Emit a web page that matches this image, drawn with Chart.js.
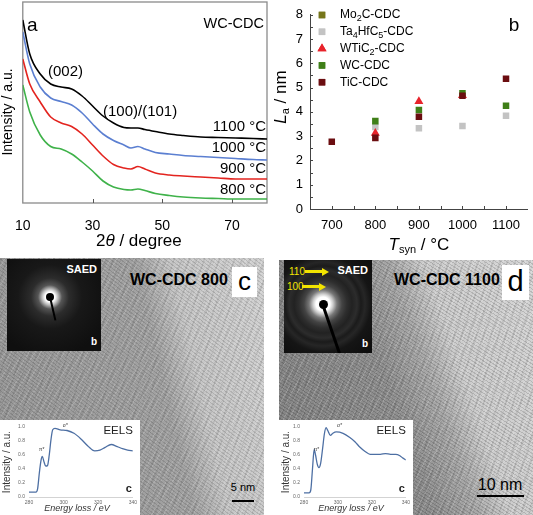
<!DOCTYPE html>
<html>
<head>
<title>WC-CDC: XRD, La and TEM</title>
<script src="https://cdn.jsdelivr.net/npm/chart.js"></script>
<style>
    body { margin: 0; background: #fff; font-family: "Liberation Sans", Arial, sans-serif; }
    #page { position: relative; width: 533px; height: 515px; overflow: hidden; }
    .abs { position: absolute; }
    canvas { display: block; }

    /* TEM micrographs (plain tone, no image available) */
    .tem { position: absolute; overflow: hidden; }
    #temC {
        left: 0; top: 258px; width: 264px; height: 257px;
        background:
            repeating-linear-gradient(37deg, rgba(0,0,0,0.12) 0 1px, transparent 1px 3px),
            repeating-linear-gradient(-58deg, rgba(255,255,255,0.14) 0 1px, transparent 1px 5px),
            repeating-linear-gradient(112deg, rgba(0,0,0,0.07) 0 2px, transparent 2px 7px),
            linear-gradient(77deg, #979797 0%, #a2a2a2 60%, #c6c6c6 71%, #d3d3d3 100%);
    }
    #temD {
        left: 279px; top: 260px; width: 254px; height: 255px;
        background:
            repeating-linear-gradient(33deg, rgba(0,0,0,0.14) 0 1px, transparent 1px 3px),
            repeating-linear-gradient(-62deg, rgba(255,255,255,0.16) 0 1px, transparent 1px 5px),
            repeating-linear-gradient(108deg, rgba(0,0,0,0.08) 0 2px, transparent 2px 7px),
            linear-gradient(71deg, #838383 0%, #8f8f8f 45%, #a8a8a8 58%, #cdcdcd 68%, #d5d5d5 100%);
    }
    .saed { position: absolute; overflow: hidden; }
    #saedC {
        left: 7px; top: 259px; width: 94px; height: 92px;
        background: radial-gradient(circle at 43px 38px, #fff 0, #fff 5px, #bbb 8px, #555 12px, #2c2c2c 19px, #181818 32px, #0f0f0f 60px);
    }
    #saedD {
        left: 284px; top: 260px; width: 88px; height: 93px;
        background: radial-gradient(circle at 39px 44px, #fff 0, #fff 7px, #ccc 10px, #777 14px, #444 19px, #2e2e2e 24px, #222 29px, #2c2c2c 34px, #1b1b1b 38px, #262626 42px, #151515 48px, #0c0c0c 70px);
    }
    .stopDot { position: absolute; background: #000; border-radius: 50%; }
    .stopArm { position: absolute; background: #000; transform-origin: top center; }
    .saedTxt { position: absolute; color: #fff; font-weight: bold; font-size: 11px; line-height: 12px; }
    .yel { position: absolute; color: #f2e400; font-size: 10px; line-height: 11px; }
    .yelBar { position: absolute; height: 3px; background: #f2e400; }
    .yelHead { position: absolute; width: 0; height: 0; border-left: 7px solid #f2e400; border-top: 4px solid transparent; border-bottom: 4px solid transparent; }
    .name { position: absolute; font-weight: bold; font-size: 16px; line-height: 18px; color: #000; white-space: nowrap; }
    .letterBox { position: absolute; background: #fff; text-align: center; color: #000; }
    .scaleTxt { position: absolute; color: #000; white-space: nowrap; text-align: center; }
    .scaleBar { position: absolute; background: #000; }
    .inset { position: absolute; background: #fff; }
</style>
</head>
<body>
<div id="page">
    <div class="abs" style="left:0;top:0;"><canvas id="xrdChart" width="268" height="255"></canvas></div>
    <div class="abs" style="left:268px;top:0;"><canvas id="laChart" width="265" height="255"></canvas></div>

    <!-- panel c -->
    <div id="temC" class="tem"></div>
    <div id="saedC" class="saed">
        <div class="stopArm" style="left:42px;top:38px;width:2px;height:24px;transform:rotate(-13deg);"></div>
        <div class="stopDot" style="left:39px;top:34px;width:8px;height:8px;"></div>
        <div class="saedTxt" style="right:4px;top:4px;">SAED</div>
        <div class="saedTxt" style="right:4px;bottom:3px;font-size:10px;">b</div>
    </div>
    <div class="name" style="left:130px;top:271px;">WC-CDC 800</div>
    <div class="letterBox" style="left:232px;top:267px;width:25px;height:30px;font-size:26px;line-height:28px;">c</div>
    <div class="scaleTxt" style="left:229px;top:481px;width:28px;font-size:11px;line-height:13px;">5 nm</div>
    <div class="scaleBar" style="left:232px;top:500px;width:22px;height:2px;"></div>
    <div class="inset" style="left:0;top:420px;width:140px;height:95px;"><canvas id="eelsC" width="140" height="95"></canvas></div>

    <!-- panel d -->
    <div id="temD" class="tem"></div>
    <div id="saedD" class="saed">
        <div class="stopArm" style="left:37px;top:44px;width:3px;height:52px;transform:rotate(-19deg);"></div>
        <div class="stopDot" style="left:35px;top:40px;width:9px;height:9px;"></div>
        <div class="yel" style="left:5px;top:6px;">110</div>
        <div class="yelBar" style="left:21px;top:10px;width:17px;"></div>
        <div class="yelHead" style="left:38px;top:7.5px;"></div>
        <div class="yel" style="left:3px;top:21px;">100</div>
        <div class="yelBar" style="left:18px;top:25px;width:17px;"></div>
        <div class="yelHead" style="left:35px;top:22.5px;"></div>
        <div class="saedTxt" style="right:4px;top:4px;">SAED</div>
        <div class="saedTxt" style="right:4px;bottom:3px;font-size:10px;">b</div>
    </div>
    <div class="name" style="left:394px;top:271px;">WC-CDC 1100</div>
    <div class="letterBox" style="left:502px;top:265px;width:27px;height:35px;font-size:29px;line-height:33px;">d</div>
    <div class="scaleTxt" style="left:474px;top:476px;width:52px;font-size:16px;line-height:18px;">10 nm</div>
    <div class="scaleBar" style="left:477px;top:495px;width:47px;height:2px;"></div>
    <div class="inset" style="left:279px;top:420px;width:134px;height:95px;"><canvas id="eelsD" width="134" height="95"></canvas></div>
</div>

<script>
    const FONT = '"Liberation Sans", Arial, sans-serif';

    // panel a: XRD patterns of WC-CDC (intensity in arbitrary units)
    const twoTheta = [10, 12, 15, 18, 21, 24, 27, 30, 33, 36, 39, 41, 43, 45, 48, 52, 56, 61, 66, 71, 76, 80];
    const xrd1100 = [183, 149, 129, 119, 116, 114, 107, 97, 87, 80, 75.5, 75, 75, 73.5, 71.5, 69, 67.5, 66, 65.5, 65, 64.5, 64];
    const xrd1000 = [171, 139, 116, 105, 101.5, 98, 90, 79, 69, 62.5, 58, 55, 56.5, 54, 50.5, 49, 47.5, 46.5, 45.5, 44.5, 43.5, 43];
    const xrd900 = [144, 119, 101, 86, 80, 76.5, 69, 58, 47, 38.5, 35, 34, 36.5, 34, 30, 28, 27, 26, 25, 24, 24, 24];
    const xrd800 = [118, 91, 68, 56.5, 54, 49, 41, 32, 22, 16, 13.5, 13, 14, 12.5, 9.5, 7.5, 6, 5, 4.5, 4, 4, 4];
    const xrdTicks = [10, 30, 50, 70];
    const xrdTempLabels = ['1100 °C', '1000 °C', '900 °C', '800 °C'];

    // panel b: crystallite size La vs synthesis temperature
    const synTemps = [700, 800, 900, 1000, 1100];
    const laMo2C = [null, null, null, null, null];
    const laTa4HfC5 = [null, 3.38, 3.33, 3.42, 3.84];
    const laWTiC2 = [null, 3.12, 4.43, 4.68, null];
    const laWC = [null, 3.62, 4.08, 4.77, 4.25];
    const laTiC = [2.77, 2.93, 3.80, 4.67, 5.37];
    const laLegend = ['Mo_2C-CDC', 'Ta_4HfC_5-CDC', 'WTiC_2-CDC', 'WC-CDC', 'TiC-CDC'];
    const synTicks = [700, 800, 900, 1000, 1100];

    // EELS insets (c: 800 °C, d: 1100 °C)
    const eelsEnergyC = [280, 284, 285, 286, 287, 287.7, 288.7, 289.7, 290.7, 291.7, 292.7, 293.7, 295, 298, 302, 306, 310, 314, 318, 321, 324, 327.5, 331, 334, 337, 340];
    const eelsIntensityC = [0.07, 0.07, 0.12, 0.35, 0.53, 0.58, 0.50, 0.44, 0.45, 0.60, 0.82, 0.96, 0.98, 0.96, 0.95, 0.91, 0.83, 0.73, 0.66, 0.67, 0.71, 0.75, 0.72, 0.69, 0.67, 0.66];
    const eelsEnergyD = [280, 283, 284, 285, 286, 286.8, 287.8, 288.8, 289.8, 291, 292, 293, 294, 295.5, 297, 299, 303, 307, 310, 313, 316, 319, 322, 325, 328, 331, 334, 336.5, 338, 340];
    const eelsIntensityD = [0.06, 0.06, 0.10, 0.40, 0.68, 0.60, 0.47, 0.42, 0.48, 0.70, 0.90, 0.99, 0.95, 0.88, 0.91, 0.93, 0.91, 0.85, 0.79, 0.71, 0.65, 0.61, 0.61, 0.61, 0.62, 0.61, 0.61, 0.59, 0.56, 0.53];

    function pts(xs, ys) {
        return xs.map((x, i) => ({ x: x, y: ys[i] })).filter(p => p.y !== null);
    }

    // draws a row of text pieces, each [text, font, dy]
    function drawRuns(ctx, x, y, runs, align) {
        let w = 0;
        runs.forEach(r => { ctx.font = r[1]; w += ctx.measureText(r[0]).width; });
        let cx = align === 'left' ? x : (align === 'right' ? x - w : x - w / 2);
        ctx.textAlign = 'left';
        ctx.textBaseline = 'middle';
        runs.forEach(r => {
            ctx.font = r[1];
            ctx.fillText(r[0], cx, y + (r[2] || 0));
            cx += ctx.measureText(r[0]).width;
        });
    }

    // "Ta_4HfC_5" -> runs with subscripts
    function subRuns(label, size) {
        const runs = [];
        let buf = '';
        for (let i = 0; i < label.length; i++) {
            if (label[i] === '_') {
                if (buf) runs.push([buf, size + 'px ' + FONT, 0]);
                buf = '';
                runs.push([label[++i], Math.round(size * 0.72) + 'px ' + FONT, size * 0.3]);
            } else {
                buf += label[i];
            }
        }
        if (buf) runs.push([buf, size + 'px ' + FONT, 0]);
        return runs;
    }

    function line(ctx, x1, y1, x2, y2) {
        ctx.beginPath();
        ctx.moveTo(x1, y1);
        ctx.lineTo(x2, y2);
        ctx.stroke();
    }

    // ---------- panel a ----------
    const xrdDecor = {
        id: 'xrdDecor',
        beforeDatasetsDraw(chart) {
            const { ctx, chartArea: a, scales: { x } } = chart;
            ctx.save();
            ctx.strokeStyle = '#8a8a8a';
            ctx.lineWidth = 1.3;
            ctx.strokeRect(a.left, a.top, a.right - a.left, a.bottom - a.top);
            ctx.strokeStyle = '#555';
            ctx.lineWidth = 1;
            xrdTicks.slice(1).forEach(v => {
                const px = Math.round(x.getPixelForValue(v)) + 0.5;
                line(ctx, px, a.bottom, px, a.bottom - 4);
            });
            ctx.restore();
        },
        afterDraw(chart) {
            const { ctx, chartArea: a } = chart;
            ctx.save();
            ctx.fillStyle = '#000';
            drawRuns(ctx, 27, 26, [['a', '19px ' + FONT]], 'left');
            drawRuns(ctx, a.right - 3, 24, [['WC-CDC', '14.5px ' + FONT]], 'right');
            drawRuns(ctx, 48, 72, [['(002)', '15px ' + FONT]], 'left');
            drawRuns(ctx, 103, 112, [['(100)/(101)', '15px ' + FONT]], 'left');
            const ys = [127, 148, 169, 190];
            xrdTempLabels.forEach((t, i) => drawRuns(ctx, a.right - 1, ys[i], [[t, '15px ' + FONT]], 'right'));
            drawRuns(ctx, (a.left + a.right) / 2 - 6, 241,
                [['2', '17px ' + FONT], ['θ', 'italic 17px ' + FONT], [' / degree', '17px ' + FONT]], 'center');
            ctx.translate(8, 112);
            ctx.rotate(-Math.PI / 2);
            drawRuns(ctx, 0, 0, [['Intensity / a.u.', '14px ' + FONT]], 'center');
            ctx.restore();
        }
    };

    function xrdSet(label, values, color) {
        return {
            label: label,
            data: pts(twoTheta, values),
            borderColor: color,
            borderWidth: 1.6,
            pointRadius: 0,
            cubicInterpolationMode: 'monotone',
            fill: false
        };
    }

    new Chart(document.getElementById('xrdChart'), {
        type: 'line',
        data: {
            datasets: [
                xrdSet('1100 °C', xrd1100, '#000000'),
                xrdSet('1000 °C', xrd1000, '#5b7fd1'),
                xrdSet('900 °C', xrd900, '#e3241f'),
                xrdSet('800 °C', xrd800, '#3fb24a')
            ]
        },
        options: {
            responsive: false,
            animation: false,
            layout: { padding: { top: 2, right: 1, left: 0, bottom: 0 } },
            plugins: { legend: { display: false }, tooltip: { enabled: false } },
            scales: {
                x: {
                    type: 'linear', min: 10, max: 80,
                    afterBuildTicks: s => { s.ticks = xrdTicks.map(v => ({ value: v })); },
                    afterFit: s => { s.height = 52; },
                    grid: { display: false, drawTicks: false },
                    border: { display: false },
                    ticks: { padding: 15, color: '#000', maxRotation: 0, font: { size: 14, family: FONT }, callback: v => String(v) }
                },
                y: {
                    min: 0, max: 201,
                    afterFit: s => { s.width = 22; },
                    grid: { display: false, drawTicks: false },
                    border: { display: false },
                    ticks: { display: false }
                }
            }
        },
        plugins: [xrdDecor]
    });

    // ---------- panel b ----------
    const laStyles = [
        { color: '#76761a', style: 'rect', radius: 4.6 },
        { color: '#c3c3c3', style: 'rect', radius: 4.6 },
        { color: '#e8232b', style: 'triangle', radius: 5.2 },
        { color: '#3f7f18', style: 'rect', radius: 4.6 },
        { color: '#6b0d10', style: 'rect', radius: 4.6 }
    ];
    const laValues = [laMo2C, laTa4HfC5, laWTiC2, laWC, laTiC];
    const laOrder = [4, 3, 2, 1, 0];

    const laDecor = {
        id: 'laDecor',
        afterDraw(chart) {
            const { ctx, chartArea: a, scales: { x, y } } = chart;
            ctx.save();
            ctx.strokeStyle = '#444';
            ctx.lineWidth = 1;
            for (let v = 0.5; v <= 8; v += 0.5) {
                const py = Math.round(y.getPixelForValue(v)) + 0.5;
                line(ctx, a.left, py, a.left + 3, py);
            }
            for (let v = 700; v <= 1100; v += 50) {
                const px = Math.round(x.getPixelForValue(v)) + 0.5;
                line(ctx, px, a.bottom, px, a.bottom - 3);
            }
            // legend
            laLegend.forEach((lab, i) => {
                const yy = 15 + i * 16.8;
                const st = laStyles[i];
                ctx.fillStyle = st.color;
                ctx.strokeStyle = st.color;
                Chart.helpers.drawPoint(ctx, { pointStyle: st.style, radius: st.radius, rotation: 0, borderWidth: 0 }, 54, yy);
                ctx.fill();
                ctx.fillStyle = '#000';
                drawRuns(ctx, 72, yy, subRuns(lab, 12), 'left');
            });
            ctx.fillStyle = '#000';
            drawRuns(ctx, 246, 26, [['b', '19px ' + FONT]], 'center');
            drawRuns(ctx, x.getPixelForValue(900), 245,
                [['T', 'italic 17px ' + FONT], ['syn', '11px ' + FONT, 5], [' / °C', '17px ' + FONT]], 'center');
            ctx.translate(13, 97);
            ctx.rotate(-Math.PI / 2);
            drawRuns(ctx, 0, 0, [['L', 'italic 17px ' + FONT], ['a', '11px ' + FONT, 5], [' / nm', '17px ' + FONT]], 'center');
            ctx.restore();
        }
    };

    new Chart(document.getElementById('laChart'), {
        type: 'scatter',
        data: {
            datasets: laValues.map((vals, i) => ({
                label: laLegend[i].replace(/_/g, ''),
                data: pts(synTemps, vals),
                order: laOrder[i],
                pointStyle: laStyles[i].style,
                pointRadius: laStyles[i].radius,
                backgroundColor: laStyles[i].color,
                borderColor: laStyles[i].color,
                borderWidth: 0
            }))
        },
        options: {
            responsive: false,
            animation: false,
            layout: { padding: { top: 5, right: 0, left: 0, bottom: 0 } },
            plugins: { legend: { display: false }, tooltip: { enabled: false } },
            scales: {
                x: {
                    type: 'linear', min: 650, max: 1150,
                    afterBuildTicks: s => { s.ticks = synTicks.map(v => ({ value: v })); },
                    afterFit: s => { s.height = 46; },
                    grid: { display: false, drawTicks: false },
                    border: { display: true, color: '#444', width: 1 },
                    ticks: { padding: 9, color: '#000', maxRotation: 0, font: { size: 13, family: FONT }, callback: v => String(v) }
                },
                y: {
                    min: 0, max: 8,
                    afterBuildTicks: s => { s.ticks = [0, 1, 2, 3, 4, 5, 6, 7, 8].map(v => ({ value: v })); },
                    afterFit: s => { s.width = 42; },
                    grid: { display: false, drawTicks: false },
                    border: { display: true, color: '#444', width: 1 },
                    ticks: { padding: 7, color: '#000', font: { size: 13, family: FONT }, callback: v => String(v) }
                }
            }
        },
        plugins: [laDecor]
    });

    // ---------- EELS insets ----------
    const eelsDecor = {
        id: 'eelsDecor',
        afterDraw(chart) {
            const { ctx, chartArea: a, scales: { x, y } } = chart;
            ctx.save();
            ctx.fillStyle = '#333';
            drawRuns(ctx, x.getPixelForValue(287.4), y.getPixelForValue(0.68), [['π*', '5px ' + FONT]], 'center');
            drawRuns(ctx, x.getPixelForValue(301), y.getPixelForValue(1.02), [['σ*', '5px ' + FONT]], 'center');
            ctx.fillStyle = '#222';
            drawRuns(ctx, a.right, 11, [['EELS', '11.5px ' + FONT]], 'right');
            drawRuns(ctx, a.right - 1, 69, [['c', 'bold 11px ' + FONT]], 'right');
            ctx.fillStyle = '#333';
            drawRuns(ctx, (a.left + a.right) / 2 - 4, 88, [['Energy loss / eV', 'italic 9px ' + FONT]], 'center');
            ctx.translate(7, (a.top + a.bottom) / 2);
            ctx.rotate(-Math.PI / 2);
            drawRuns(ctx, 0, 0, [['Intensity / a.u.', '10px ' + FONT]], 'center');
            ctx.restore();
        }
    };

    function eelsChart(id, energy, intensity, leftW, rightPad) {
        new Chart(document.getElementById(id), {
            type: 'line',
            data: {
                datasets: [{
                    label: 'EELS',
                    data: pts(energy, intensity),
                    borderColor: '#4d6fa3',
                    borderWidth: 1.3,
                    pointRadius: 0,
                    cubicInterpolationMode: 'monotone'
                }]
            },
            options: {
                responsive: false,
                animation: false,
                layout: { padding: { top: 5, right: rightPad, left: 0, bottom: 0 } },
                plugins: { legend: { display: false }, tooltip: { enabled: false } },
                scales: {
                    x: {
                        type: 'linear', min: 280, max: 340,
                        afterBuildTicks: s => { s.ticks = [280, 300, 320, 340].map(v => ({ value: v })); },
                        afterFit: s => { s.height = 18; },
                        grid: { display: false, drawTicks: false },
                        border: { display: true, color: '#c8c8c8', width: 0.8 },
                        ticks: { padding: 3, color: '#666', maxRotation: 0, font: { size: 5, family: FONT }, callback: v => String(v) }
                    },
                    y: {
                        min: 0, max: 1,
                        afterBuildTicks: s => { s.ticks = [0, 0.2, 0.4, 0.6, 0.8, 1].map(v => ({ value: v })); },
                        afterFit: s => { s.width = leftW; },
                        grid: { display: false, drawTicks: false },
                        border: { display: false },
                        ticks: { padding: 4, color: '#666', font: { size: 5, family: FONT }, callback: v => v.toFixed(1) }
                    }
                }
            },
            plugins: [eelsDecor]
        });
    }

    eelsChart('eelsC', eelsEnergyC, eelsIntensityC, 29, 5);
    eelsChart('eelsD', eelsEnergyD, eelsIntensityD, 25, 6);
</script>
</body>
</html>
